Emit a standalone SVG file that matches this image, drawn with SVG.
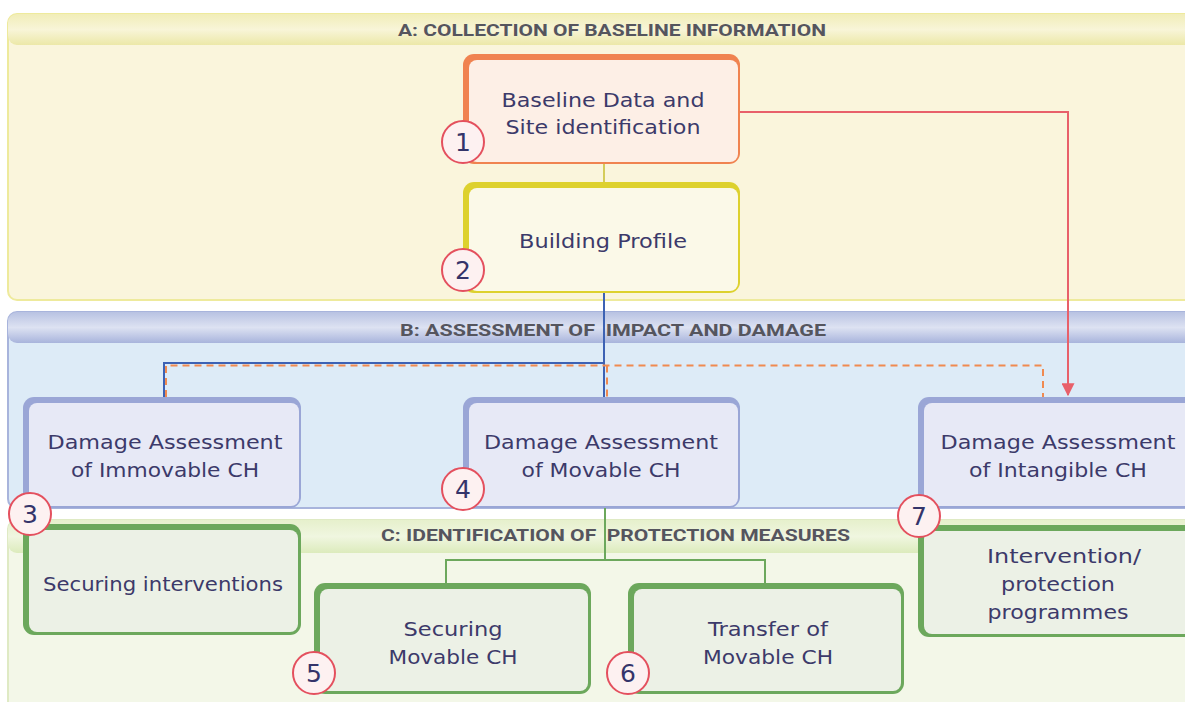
<svg xmlns="http://www.w3.org/2000/svg" width="1185" height="702" viewBox="0 0 1185 702">
<defs>
<linearGradient id="ga" x1="0" y1="0" x2="0" y2="1"><stop offset="0" stop-color="#f1edb8"/><stop offset="0.5" stop-color="#f8f5d8"/><stop offset="1" stop-color="#ece8a8"/></linearGradient>
<linearGradient id="gb" x1="0" y1="0" x2="0" y2="1"><stop offset="0" stop-color="#b8c2e2"/><stop offset="0.5" stop-color="#dde2f2"/><stop offset="1" stop-color="#a8b4dc"/></linearGradient>
<linearGradient id="gc" x1="0" y1="0" x2="0" y2="1"><stop offset="0" stop-color="#e6f0cc"/><stop offset="0.5" stop-color="#f0f6e0"/><stop offset="1" stop-color="#dcebbc"/></linearGradient>
<marker id="arr" viewBox="0 0 10 10" refX="9" refY="5" markerWidth="6.5" markerHeight="6.5" orient="auto"><path d="M0,0 L10,5 L0,10 z" fill="#e8606a"/></marker>
</defs>
<style>
.hd{font-family:"Roboto","Liberation Sans",sans-serif;font-weight:bold;font-size:17px;fill:#55555e;}
.t{font-family:"DejaVu Sans","Open Sans",sans-serif;font-size:19px;fill:#3c3a6a;text-anchor:middle;}
.num{font-family:"DejaVu Sans","Open Sans",sans-serif;font-size:25px;fill:#34346a;text-anchor:middle;}
.circ{fill:#fdf1f1;stroke:#e4505e;stroke-width:2;}
.bo{fill:#f08350;}.fo{fill:#fdefe6;}
.by{fill:#ddd12e;}.fy{fill:#fbf9e8;}
.bb{fill:#9aa6d6;}.fb{fill:#e7e9f6;}
.bg{fill:#6ca85c;}.fg{fill:#ecf1e6;}
</style>
<rect width="1185" height="702" fill="#ffffff"/>
<g id="panelA">
<rect x="8" y="14" width="1200" height="286" rx="9" fill="#faf5dc" stroke="#eeea9c" stroke-width="2"/>
<rect x="8" y="14" width="1200" height="31" rx="9" fill="url(#ga)"/>
<text class="hd" x="398" y="36" textLength="428" lengthAdjust="spacingAndGlyphs">A: COLLECTION OF BASELINE INFORMATION</text>
</g>
<g id="panelB">
<rect x="8" y="312" width="1200" height="196" rx="9" fill="#ddebf7" stroke="#a8b4dc" stroke-width="2"/>
<rect x="8" y="312" width="1200" height="31" rx="9" fill="url(#gb)"/>
<text class="hd" x="400" y="336" textLength="426" lengthAdjust="spacingAndGlyphs" xml:space="preserve">B: ASSESSMENT OF  IMPACT AND DAMAGE</text>
</g>
<g id="panelC">
<rect x="8" y="520" width="1200" height="200" rx="9" fill="#f3f7e8" stroke="#dfeac4" stroke-width="2"/>
<rect x="8" y="520" width="1200" height="33" rx="9" fill="url(#gc)"/>
<text class="hd" x="381" y="541" textLength="469" lengthAdjust="spacingAndGlyphs" xml:space="preserve">C: IDENTIFICATION OF  PROTECTION MEASURES</text>
</g>
<g id="connectors" fill="none">
<line x1="604" y1="164" x2="604" y2="182" stroke="#d4cc5a" stroke-width="2"/>
<path d="M604,293 V397 M604,363 H164 V397" stroke="#3d62b4" stroke-width="2"/>
<path d="M166,397 V365.5 H1043 V397 M607,365.5 V397" stroke="#f08a50" stroke-width="2" stroke-dasharray="7,5"/>
<path d="M740,112 H1068 V395" stroke="#e8606a" stroke-width="2" marker-end="url(#arr)"/>
<path d="M605,508 V560 M446,583 V560 H765 V583" stroke="#6ca85c" stroke-width="2"/>
</g>
<g id="n1">
<rect class="bo" x="463" y="54" width="277" height="110" rx="11"/>
<rect class="fo" x="469" y="60" width="269" height="102" rx="8"/>
<text class="t" x="603" y="107" textLength="203" lengthAdjust="spacingAndGlyphs">Baseline Data and</text>
<text class="t" x="603" y="134" textLength="195" lengthAdjust="spacingAndGlyphs">Site identification</text>
</g>
<g id="n2">
<rect class="by" x="463" y="182" width="277" height="111" rx="11"/>
<rect class="fy" x="469" y="188" width="269" height="103" rx="8"/>
<text class="t" x="603" y="248" textLength="168" lengthAdjust="spacingAndGlyphs">Building Profile</text>
</g>
<g id="n3">
<rect class="bb" x="23" y="397" width="278" height="111" rx="11"/>
<rect class="fb" x="29" y="403" width="270" height="103" rx="8"/>
<text class="t" x="165" y="449" textLength="235" lengthAdjust="spacingAndGlyphs">Damage Assessment</text>
<text class="t" x="165" y="477" textLength="188" lengthAdjust="spacingAndGlyphs">of Immovable CH</text>
</g>
<g id="n4">
<rect class="bb" x="463" y="397" width="277" height="111" rx="11"/>
<rect class="fb" x="469" y="403" width="269" height="103" rx="8"/>
<text class="t" x="601" y="449" textLength="234" lengthAdjust="spacingAndGlyphs">Damage Assessment</text>
<text class="t" x="601" y="477" textLength="159" lengthAdjust="spacingAndGlyphs">of Movable CH</text>
</g>
<g id="n7">
<rect class="bb" x="918" y="397" width="290" height="111" rx="11"/>
<rect class="fb" x="924" y="403" width="282" height="103" rx="8"/>
<text class="t" x="1058" y="449" textLength="235" lengthAdjust="spacingAndGlyphs">Damage Assessment</text>
<text class="t" x="1058" y="477" textLength="178" lengthAdjust="spacingAndGlyphs">of Intangible CH</text>
</g>
<g id="n3b">
<rect class="bg" x="23" y="524" width="278" height="111" rx="11"/>
<rect class="fg" x="29" y="530" width="269" height="102" rx="8"/>
<text class="t" x="163" y="591" textLength="240" lengthAdjust="spacingAndGlyphs">Securing interventions</text>
</g>
<g id="n5">
<rect class="bg" x="314" y="583" width="277" height="111" rx="11"/>
<rect class="fg" x="320" y="589" width="268" height="102" rx="8"/>
<text class="t" x="453" y="636" textLength="99" lengthAdjust="spacingAndGlyphs">Securing</text>
<text class="t" x="453" y="664" textLength="129" lengthAdjust="spacingAndGlyphs">Movable CH</text>
</g>
<g id="n6">
<rect class="bg" x="628" y="583" width="276" height="111" rx="11"/>
<rect class="fg" x="634" y="589" width="267" height="102" rx="8"/>
<text class="t" x="768" y="636" textLength="120" lengthAdjust="spacingAndGlyphs">Transfer of</text>
<text class="t" x="768" y="664" textLength="130" lengthAdjust="spacingAndGlyphs">Movable CH</text>
</g>
<g id="n7b">
<rect class="bg" x="918" y="525" width="290" height="112" rx="11"/>
<rect class="fg" x="924" y="531" width="282" height="103" rx="8"/>
<text class="t" x="1064" y="563" textLength="154" lengthAdjust="spacingAndGlyphs">Intervention/</text>
<text class="t" x="1058" y="591" textLength="114" lengthAdjust="spacingAndGlyphs">protection</text>
<text class="t" x="1058" y="619" textLength="141" lengthAdjust="spacingAndGlyphs">programmes</text>
</g>
<g id="badges">
<circle class="circ" cx="463" cy="142" r="21"/><text class="num" x="463" y="151">1</text>
<circle class="circ" cx="463" cy="270" r="21"/><text class="num" x="463" y="279">2</text>
<circle class="circ" cx="30" cy="514" r="21"/><text class="num" x="30" y="523">3</text>
<circle class="circ" cx="463" cy="489" r="21"/><text class="num" x="463" y="498">4</text>
<circle class="circ" cx="314" cy="673" r="21"/><text class="num" x="314" y="682">5</text>
<circle class="circ" cx="628" cy="673" r="21"/><text class="num" x="628" y="682">6</text>
<circle class="circ" cx="919" cy="516" r="21"/><text class="num" x="919" y="525">7</text>
</g>
</svg>
